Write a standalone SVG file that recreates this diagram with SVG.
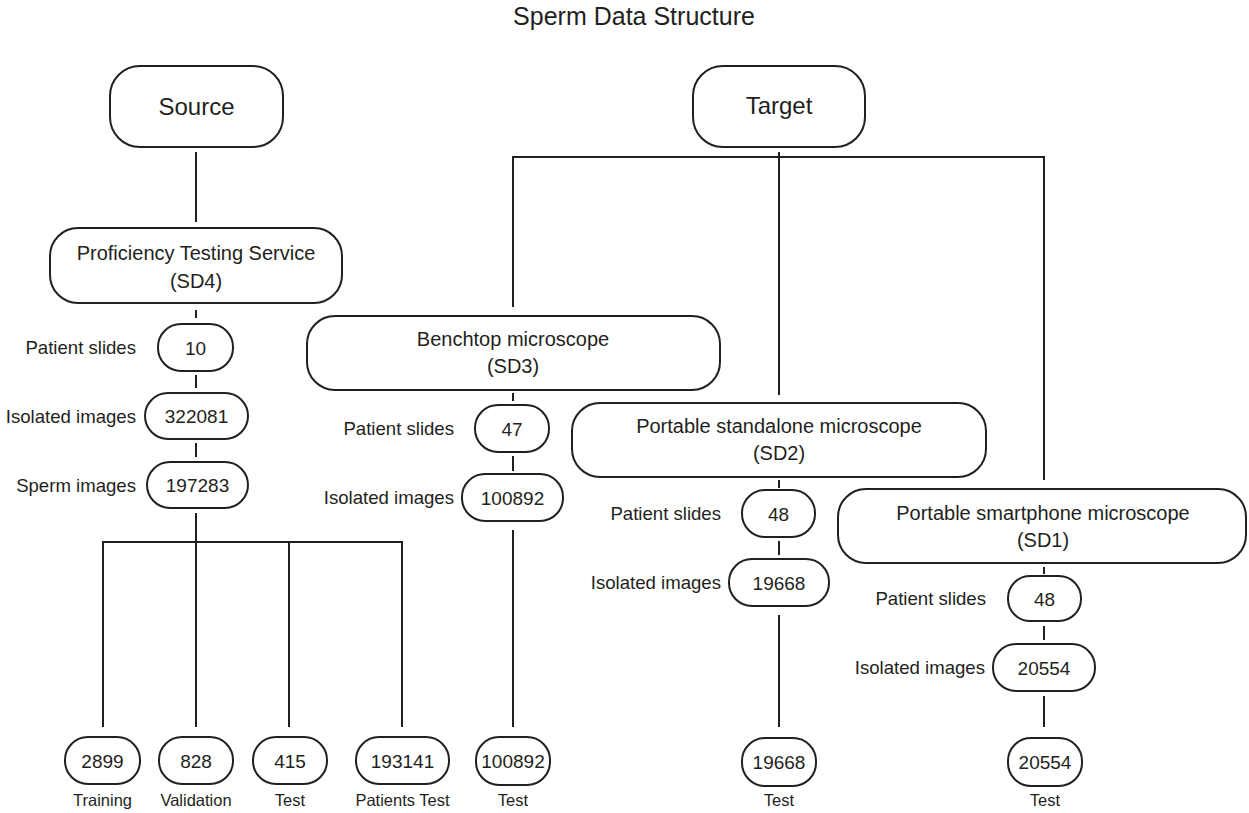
<svg xmlns="http://www.w3.org/2000/svg" width="1249" height="813" viewBox="0 0 1249 813">
<style>
  .box { fill: #ffffff; stroke: #231f20; stroke-width: 2; }
  .ln { stroke: #231f20; stroke-width: 2; fill: none; }
  text { font-family: "Liberation Sans", Arial, sans-serif; fill: #231f20; }
  .title { font-size: 25px; text-anchor: middle; }
  .big { font-size: 24px; text-anchor: middle; }
  .hd { font-size: 20px; text-anchor: middle; }
  .num { font-size: 19px; text-anchor: middle; }
  .lbl { font-size: 18.6px; text-anchor: end; }
  .bot { font-size: 16.5px; text-anchor: middle; }
</style>
<rect x="0" y="0" width="1249" height="813" fill="#ffffff"/>
<text class="title" x="634" y="25">Sperm Data Structure</text>

<g id="connectors">
  <line class="ln" x1="196" y1="152" x2="196" y2="222"/>
  <line class="ln" x1="196" y1="310" x2="196" y2="318"/>
  <line class="ln" x1="196" y1="375" x2="196" y2="388"/>
  <line class="ln" x1="196" y1="443" x2="196" y2="457"/>
  <line class="ln" x1="196" y1="513" x2="196" y2="727"/>
  <line class="ln" x1="102" y1="542" x2="402" y2="542"/>
  <line class="ln" x1="103" y1="541" x2="103" y2="727"/>
  <line class="ln" x1="289" y1="542" x2="289" y2="727"/>
  <line class="ln" x1="402" y1="541" x2="402" y2="727"/>

  <line class="ln" x1="779" y1="152" x2="779" y2="395"/>
  <polyline class="ln" points="513,307 513,157 1044,157 1044,480"/>

  <line class="ln" x1="513" y1="393" x2="513" y2="401"/>
  <line class="ln" x1="513" y1="456" x2="513" y2="471"/>
  <line class="ln" x1="513" y1="530" x2="513" y2="727"/>

  <line class="ln" x1="779" y1="480" x2="779" y2="488"/>
  <line class="ln" x1="779" y1="541" x2="779" y2="555"/>
  <line class="ln" x1="779" y1="615" x2="779" y2="727"/>

  <line class="ln" x1="1044" y1="567" x2="1044" y2="574"/>
  <line class="ln" x1="1044" y1="626" x2="1044" y2="640"/>
  <line class="ln" x1="1044" y1="696" x2="1044" y2="727"/>
</g>

<g id="source">
  <rect class="box" x="110" y="66" width="173" height="81" rx="30"/>
  <text class="big" x="196.5" y="115">Source</text>
</g>
<g id="target">
  <rect class="box" x="693" y="66" width="172" height="81" rx="30"/>
  <text class="big" x="779" y="114">Target</text>
</g>

<g id="sd4">
  <rect class="box" x="50" y="228" width="292" height="75" rx="28"/>
  <text class="hd" x="196" y="260">Proficiency Testing Service</text>
  <text class="hd" x="196" y="288">(SD4)</text>
</g>
<g id="sd3">
  <rect class="box" x="307" y="316" width="413" height="74" rx="28"/>
  <text class="hd" x="513" y="346">Benchtop microscope</text>
  <text class="hd" x="513" y="373">(SD3)</text>
</g>
<g id="sd2">
  <rect class="box" x="572" y="403" width="414" height="74" rx="28"/>
  <text class="hd" x="779" y="433">Portable standalone microscope</text>
  <text class="hd" x="779" y="460">(SD2)</text>
</g>
<g id="sd1">
  <rect class="box" x="838" y="489" width="408" height="74" rx="28"/>
  <text class="hd" x="1043" y="520">Portable smartphone microscope</text>
  <text class="hd" x="1043" y="547">(SD1)</text>
</g>

<g id="sd4-slides">
  <text class="lbl" x="136" y="354">Patient slides</text>
  <rect class="box" x="158" y="324" width="75" height="47" rx="23"/>
  <text class="num" x="195.5" y="354.5">10</text>
</g>
<g id="sd4-isolated">
  <text class="lbl" x="136" y="423">Isolated images</text>
  <rect class="box" x="145" y="393" width="103" height="46" rx="23"/>
  <text class="num" x="196.5" y="423">322081</text>
</g>
<g id="sd4-sperm">
  <text class="lbl" x="136" y="492">Sperm images</text>
  <rect class="box" x="147" y="462" width="101" height="46" rx="23"/>
  <text class="num" x="197.5" y="492">197283</text>
</g>

<g id="sd3-slides">
  <text class="lbl" x="454" y="435">Patient slides</text>
  <rect class="box" x="475" y="405" width="74" height="47" rx="23"/>
  <text class="num" x="512" y="435.5">47</text>
</g>
<g id="sd3-isolated">
  <text class="lbl" x="454" y="504">Isolated images</text>
  <rect class="box" x="462" y="474" width="101" height="47" rx="23"/>
  <text class="num" x="512.5" y="504.5">100892</text>
</g>

<g id="sd2-slides">
  <text class="lbl" x="721" y="520">Patient slides</text>
  <rect class="box" x="742" y="490" width="73" height="47" rx="23"/>
  <text class="num" x="778.5" y="520.5">48</text>
</g>
<g id="sd2-isolated">
  <text class="lbl" x="721" y="589">Isolated images</text>
  <rect class="box" x="729" y="559" width="100" height="47" rx="23"/>
  <text class="num" x="779" y="589.5">19668</text>
</g>

<g id="sd1-slides">
  <text class="lbl" x="986" y="605">Patient slides</text>
  <rect class="box" x="1008" y="576" width="73" height="45" rx="22"/>
  <text class="num" x="1044.5" y="605.5">48</text>
</g>
<g id="sd1-isolated">
  <text class="lbl" x="985" y="674">Isolated images</text>
  <rect class="box" x="993" y="644" width="102" height="47" rx="23"/>
  <text class="num" x="1044" y="674.5">20554</text>
</g>

<g id="training">
  <rect class="box" x="65" y="737" width="75" height="47" rx="23"/>
  <text class="num" x="102.5" y="767.5">2899</text>
  <text class="bot" x="102.5" y="806">Training</text>
</g>
<g id="validation">
  <rect class="box" x="159" y="737" width="74" height="47" rx="23"/>
  <text class="num" x="196" y="767.5">828</text>
  <text class="bot" x="196" y="806">Validation</text>
</g>
<g id="test-sd4">
  <rect class="box" x="253" y="737" width="74" height="47" rx="23"/>
  <text class="num" x="290" y="767.5">415</text>
  <text class="bot" x="290" y="806">Test</text>
</g>
<g id="patients-test">
  <rect class="box" x="356" y="737" width="93" height="47" rx="23"/>
  <text class="num" x="402.5" y="767.5">193141</text>
  <text class="bot" x="402.5" y="806">Patients Test</text>
</g>
<g id="test-sd3">
  <rect class="box" x="476" y="737" width="74" height="48" rx="23"/>
  <text class="num" x="513" y="768">100892</text>
  <text class="bot" x="513" y="806">Test</text>
</g>
<g id="test-sd2">
  <rect class="box" x="742" y="738" width="74" height="48" rx="23"/>
  <text class="num" x="779" y="769">19668</text>
  <text class="bot" x="779" y="806">Test</text>
</g>
<g id="test-sd1">
  <rect class="box" x="1008" y="738" width="74" height="48" rx="23"/>
  <text class="num" x="1045" y="769">20554</text>
  <text class="bot" x="1045" y="806">Test</text>
</g>
</svg>
